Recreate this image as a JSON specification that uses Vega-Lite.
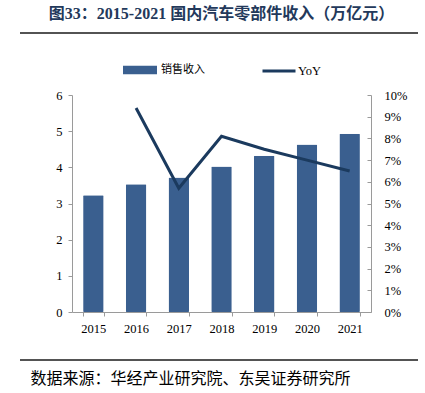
{
  "$schema": "https://vega.github.io/schema/vega-lite/v6.json",
  "width": 299,
  "height": 217,
  "autosize": {"type": "none"},
  "padding": {"left": 72, "top": 95, "right": 54, "bottom": 81},
  "background": "white",
  "title": {
    "text": "图33：2015-2021 国内汽车零部件收入（万亿元）",
    "font": "Liberation Serif, Noto Sans CJK SC",
    "fontSize": 16,
    "fontWeight": "bold",
    "color": "#23395b",
    "anchor": "middle",
    "dx": 0,
    "offset": 10
  },
  "config": {
    "view": {"stroke": null},
    "font": "Liberation Serif, Noto Sans CJK SC",
    "axis": {
      "labelFont": "Liberation Serif",
      "labelFontSize": 12.5,
      "labelColor": "#000000",
      "domainColor": "#9a9a9a",
      "tickColor": "#9a9a9a",
      "grid": false
    }
  },
  "data": {
    "values": [
      {"year": "2015", "revenue": 3.23, "yoy": null},
      {"year": "2016", "revenue": 3.53, "yoy": 0.094},
      {"year": "2017", "revenue": 3.72, "yoy": 0.057},
      {"year": "2018", "revenue": 4.02, "yoy": 0.081},
      {"year": "2019", "revenue": 4.32, "yoy": 0.075},
      {"year": "2020", "revenue": 4.63, "yoy": 0.070},
      {"year": "2021", "revenue": 4.93, "yoy": 0.065}
    ]
  },
  "encoding": {
    "x": {
      "field": "year",
      "type": "ordinal",
      "scale": {"paddingInner": 0.52, "paddingOuter": 0.26},
      "axis": {
        "labelAngle": 0,
        "tickBand": "extent",
        "tickSize": 4,
        "labelPadding": 6,
        "title": "数据来源：华经产业研究院、东吴证券研究所",
        "titleFont": "Noto Sans CJK SC",
        "titleFontSize": 16,
        "titleFontWeight": "normal",
        "titleColor": "#000000",
        "titleAnchor": "start",
        "titleAlign": "left",
        "titleBaseline": "middle",
        "titleX": -42,
        "titleY": 66
      }
    }
  },
  "layer": [
    {
      "mark": {"type": "bar", "color": "#3a5f8f", "cornerRadius": 1},
      "encoding": {
        "y": {
          "field": "revenue",
          "type": "quantitative",
          "scale": {"domain": [0, 6]},
          "axis": {"title": null, "values": [0, 1, 2, 3, 4, 5, 6], "tickSize": 4, "labelPadding": 6}
        },
        "color": {
          "datum": "销售收入",
          "scale": {"range": ["#3a5f8f"]},
          "legend": {
            "orient": "none",
            "legendX": 51,
            "legendY": -42,
            "title": null,
            "padding": 0,
            "symbolType": "M-1,-0.25H1V0.25H-1Z",
            "symbolSize": 1156,
            "symbolStrokeWidth": 0,
            "labelFont": "Noto Sans CJK SC",
            "labelFontSize": 11,
            "labelColor": "#000000",
            "labelOffset": 4
          }
        }
      }
    },
    {
      "mark": {"type": "line", "color": "#1b3a5e", "strokeWidth": 3},
      "encoding": {
        "y": {
          "field": "yoy",
          "type": "quantitative",
          "scale": {"domain": [0, 0.1]},
          "axis": {
            "title": null,
            "orient": "right",
            "format": ".0%",
            "values": [0, 0.01, 0.02, 0.03, 0.04, 0.05, 0.06, 0.07, 0.08, 0.09, 0.1],
            "tickSize": -4,
            "labelPadding": 17
          }
        },
        "stroke": {
          "datum": "YoY",
          "scale": {"range": ["#1b3a5e"]},
          "legend": {
            "orient": "none",
            "legendX": 189,
            "legendY": -42,
            "title": null,
            "padding": 0,
            "symbolType": "stroke",
            "symbolSize": 1089,
            "symbolStrokeWidth": 3,
            "labelFont": "Liberation Serif",
            "labelFontSize": 12.5,
            "labelColor": "#000000",
            "labelOffset": 1
          }
        }
      }
    },
    {
      "data": {"values": [{"pos": "top"}, {"pos": "bottom"}]},
      "mark": {"type": "rule", "color": "#1a1a1a", "strokeWidth": 1.5},
      "encoding": {
        "x": {"value": -52},
        "x2": {"value": 346},
        "y": {"field": "pos", "type": "nominal", "scale": {"type": "point", "padding": 0, "domain": ["top", "bottom"], "range": [-62, 265]}, "axis": null}
      }
    }
  ],
  "resolve": {"scale": {"y": "independent", "color": "independent"}}
}
